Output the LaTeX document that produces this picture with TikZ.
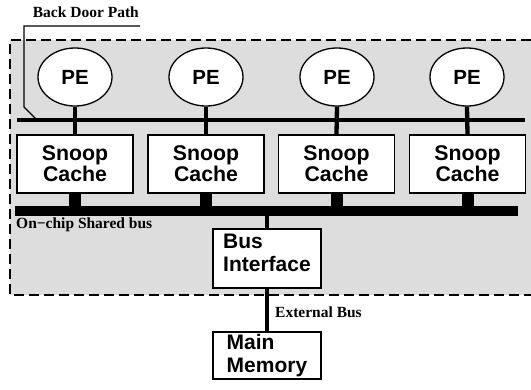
\documentclass[tikz,border=0pt]{standalone}
\usepackage{fontspec}
\setmainfont{Liberation Serif}
\setsansfont{Liberation Sans}
\usepackage{tikz}
\usetikzlibrary{shapes,calc}
\definecolor{chipgray}{RGB}{221,221,221}

\begin{document}
\begin{tikzpicture}[x=1pt,y=-1pt]
\tikzset{
	pe node/.style = {ellipse, draw, line width=1.3pt, fill=white, minimum width=74pt, minimum height=58pt, inner sep=0pt, font=\fontsize{20.5}{21}\selectfont\sffamily\bfseries},
	box node/.style = {rectangle, draw, line width=1.3pt, fill=white, inner sep=0pt, font=\fontsize{21.3}{21}\selectfont\sffamily\bfseries},
	bus label/.style = {inner sep=0pt, font=\fontsize{15.5}{16}\selectfont\bfseries},
	stem/.style = {line width=4.3pt},
}
\useasboundingbox (0,0) rectangle (531,389);
% chip area
\fill[chipgray] (10,40) rectangle (531,295);
\draw[line width=2.4pt, dash pattern=on 10pt off 5pt] (531,40) -- (10,40) -- (10,295) -- (531,295);
% buses
\coordinate (bdw) at (17,120);
\coordinate (bde) at (525,120);
\coordinate (bdtap) at (37,120);
\coordinate (sbw) at (15,211);
\coordinate (sbe) at (518,211);
\coordinate (sbtap) at (267,211);
\draw[stem] (bdw) -- (bde);
\draw[line width=10pt] (sbw) -- (sbe);
% PEs and caches
\foreach \i/\x/\cx in {1/75/75, 2/206/206, 3/337/336.5, 4/467/467.5}{
	\node(pe\i)[pe node] at (\x,77) {PE};
	\node(sc\i)[box node, minimum width=116pt, minimum height=58pt, align=center] at (\cx,164) {Snoop\\Cache};
	\draw[stem] (pe\i.south) -- (sc\i.north);
	\draw[line width=12pt] (sc\i.south) -- (sc\i.south |- sbtap);
}
\node(bi)[box node, minimum width=108pt, minimum height=59pt, text depth=12pt, align=left, font=\fontsize{21}{23}\selectfont\sffamily\bfseries] at (267,258.5) {Bus\\Interface};
\node(mm)[box node, minimum width=108pt, minimum height=47pt, align=left, font=\fontsize{21}{23}\selectfont\sffamily\bfseries] at (267,355.5) {Main\\Memory};
\draw[stem] (sbtap) -- (bi.north);
\draw[stem] (bi.south) -- (mm.north);
% labels
\node(bdlabel)[bus label, inner xsep=1pt, inner ysep=8pt, anchor=south east] at (140,26) {Back Door Path};
\draw[line width=1.1pt] (bdlabel.south east) -| (24,107) -- (bdtap);
\node(sblabel)[bus label, anchor=base west] at (16,228) {On\textminus chip Shared bus};
\node(eblabel)[bus label, anchor=base west] at (275,317) {External Bus};
\end{tikzpicture}
\end{document}
